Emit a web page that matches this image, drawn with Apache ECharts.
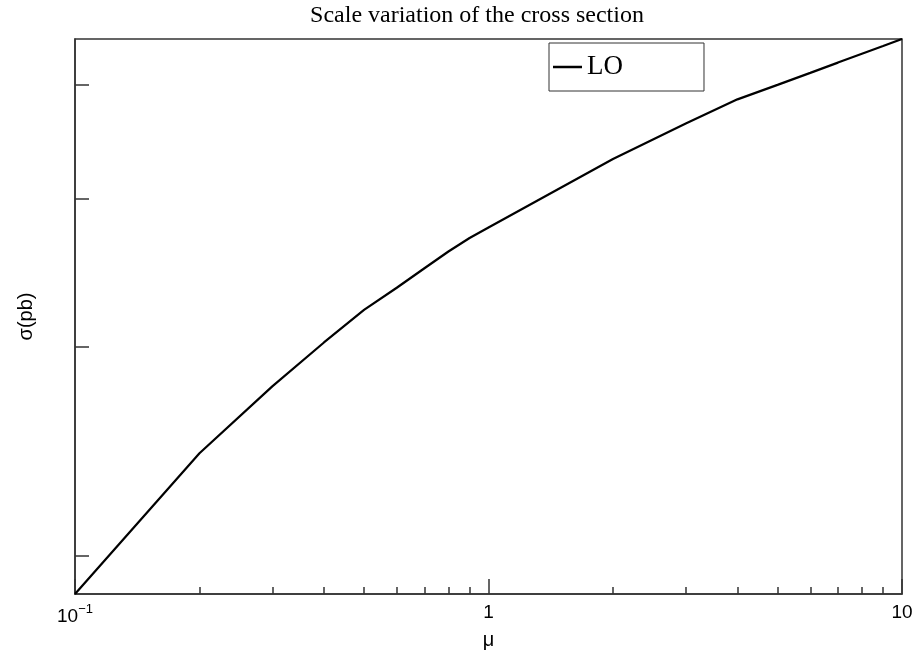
<!DOCTYPE html>
<html>
<head>
<meta charset="utf-8">
<script src="https://cdn.jsdelivr.net/npm/echarts@6/dist/echarts.min.js"></script>
<style>html,body{margin:0;padding:0;background:#fff}#c{width:917px;height:653px}</style>
</head>
<body>
<div id="c"></div>
<script>
const mu = [0.1, 0.2, 0.3, 0.4, 0.5, 0.6, 0.7, 0.8, 0.9, 1, 2, 3, 4, 5, 6, 7, 8, 9, 10];
const sigmaLO = [1.855, 2.439, 2.778, 3.026, 3.224, 3.366, 3.496, 3.612, 3.708, 3.785, 4.324, 4.634, 4.856, 4.995, 5.113, 5.216, 5.307, 5.387, 5.461];
const yTicks = [2, 3, 4, 5];
const xMajorTicks = [0.1, 1, 10];
const xMinorTicks = [0.2, 0.3, 0.4, 0.5, 0.6, 0.7, 0.8, 0.9, 2, 3, 4, 5, 6, 7, 8, 9];
const yMin = 1.855, yMax = 5.461;

const chart = echarts.init(document.getElementById('c'), null, {renderer: 'canvas'});
const axisColor = '#333';
chart.setOption({
  animation: false,
  backgroundColor: '#fff',
  graphic: [{
    type: 'text', x: 477, y: 4,
    style: {
      text: 'Scale variation of the cross section',
      fontFamily: 'Liberation Serif', fontSize: 24, fill: '#000',
      textAlign: 'center', textVerticalAlign: 'top'
    }
  }],
  legend: {
    left: 549, top: 43,
    orient: 'vertical',
    data: ['LO'],
    icon: 'rect', itemWidth: 29, itemHeight: 2.5, itemGap: 0,
    borderColor: '#333', borderWidth: 1,
    padding: [10, 81, 10, 4],
    textStyle: {fontFamily: 'Liberation Serif', fontSize: 27, color: '#000', lineHeight: 28}
  },
  grid: {left: 75, right: 15, top: 39, bottom: 59, show: true, outerBoundsMode: 'none', containLabel: false,
         borderColor: axisColor, borderWidth: 1.5, backgroundColor: 'transparent'},
  xAxis: [{
    type: 'log', logBase: 10, min: 0.1, max: 10,
    name: 'μ', nameLocation: 'middle', nameGap: 36,
    nameTextStyle: {fontFamily: 'Liberation Sans', fontSize: 20, color: '#000'},
    axisLine: {lineStyle: {color: axisColor, width: 1.5}},
    axisTick: {inside: true, length: 15, lineStyle: {color: axisColor, width: 1.5}, customValues: xMajorTicks},
    axisLabel: {
      margin: 9, customValues: xMajorTicks,
      fontFamily: 'Liberation Sans', fontSize: 19, color: '#000',
      formatter: function (v) {
        if (Math.abs(v - 0.1) < 1e-9) return '{b|10}{s|−1}';
        return '{b|' + Math.round(v) + '}';
      },
      rich: {b: {fontFamily: 'Liberation Sans', fontSize: 19, color: '#000'}, s: {fontFamily: 'Liberation Sans', fontSize: 13, color: '#000', padding: [0,0,14,0]}}
    },
    splitLine: {show: false}
  }, {
    type: 'log', logBase: 10, min: 0.1, max: 10, position: 'bottom',
    axisLine: {show: false},
    axisTick: {inside: true, length: 7, lineStyle: {color: axisColor, width: 1.5}, customValues: xMinorTicks},
    axisLabel: {show: false},
    splitLine: {show: false}
  }],
  yAxis: {
    type: 'log', logBase: 10, min: yMin, max: yMax,
    name: 'σ(pb)', nameLocation: 'middle', nameGap: 39, nameRotate: 90,
    nameTextStyle: {fontFamily: 'Liberation Sans', fontSize: 20, color: '#000'},
    axisLine: {lineStyle: {color: axisColor, width: 1.5}},
    axisTick: {inside: true, length: 14, lineStyle: {color: axisColor, width: 1.5}, customValues: yTicks},
    axisLabel: {show: false},
    splitLine: {show: false}
  },
  series: [{
    name: 'LO', type: 'line',
    data: mu.map((m, i) => [m, sigmaLO[i]]),
    showSymbol: false, symbol: 'none',
    lineStyle: {color: '#000', width: 2.2},
    itemStyle: {color: '#000'}
  }]
});
</script>
</body>
</html>
